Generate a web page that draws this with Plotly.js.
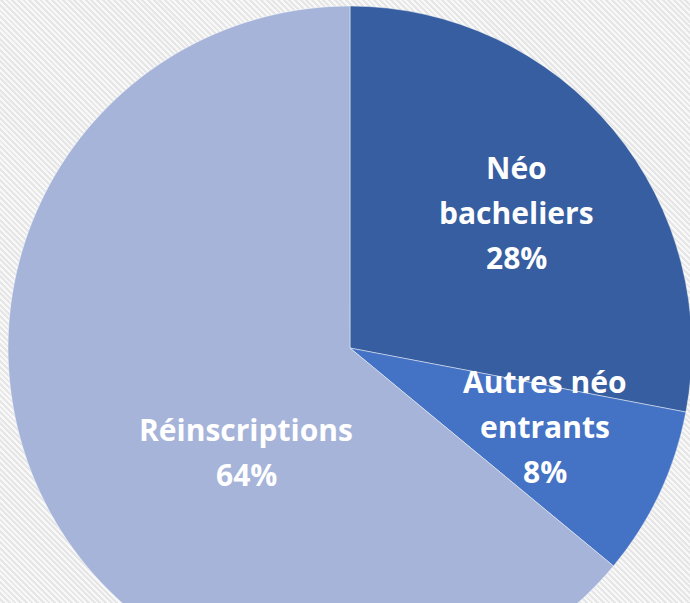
<!DOCTYPE html>
<html>
<head>
<meta charset="utf-8">
<script src="https://cdn.plot.ly/plotly-3.0.1.min.js"></script>
<style>
  html, body {
    margin: 0;
    padding: 0;
    width: 690px;
    height: 603px;
    overflow: hidden;
    background: repeating-linear-gradient(45deg, #f8f8f8 0px, #f8f8f8 2px, #e6e6e6 2px, #e6e6e6 4px);
  }
  #pieChart {
    position: absolute;
    left: 8px;
    top: 6px;
    width: 684px;
    height: 684px;
  }
</style>
</head>
<body>
<div id="pieChart"></div>
<script>
// chart values
var categories = ["Néo bacheliers", "Autres néo entrants", "Réinscriptions"];
var labelLines = [["Néo", "bacheliers"], ["Autres néo", "entrants"], ["Réinscriptions"]];
var values = [28, 8, 64];
var colors = ["#365ea0", "#4472c4", "#a6b4d9"];

// where each label block sits, in page pixels (center of block)
var labelPos = [[517, 212], [545, 426], [246, 452]];
var lineGap = 45;

function getPercentages(vals) {
  var sum = 0;
  for (var i = 0; i < vals.length; i++) {
    sum += vals[i];
  }
  var pct = [];
  for (var i = 0; i < vals.length; i++) {
    pct.push(Math.round(vals[i] / sum * 100) + "%");
  }
  return pct;
}

var box = {left: 8, top: 6, size: 684};
var percents = getPercentages(values);
var annotations = [];

for (var i = 0; i < categories.length; i++) {
  var lines = labelLines[i].concat([percents[i]]);
  var y0 = labelPos[i][1] - (lines.length - 1) * lineGap / 2;
  for (var j = 0; j < lines.length; j++) {
    var px = labelPos[i][0];
    var py = y0 + j * lineGap;
    annotations.push({
      text: "<b>" + lines[j] + "</b>",
      xref: "paper", yref: "paper",
      x: (px - box.left) / box.size,
      y: 1 - (py - box.top) / box.size,
      xanchor: "center", yanchor: "middle",
      showarrow: false,
      font: {family: "'Open Sans', sans-serif", size: 30, color: "#ffffff"}
    });
  }
}

var data = [{
  type: "pie",
  labels: categories,
  values: values,
  sort: false,
  direction: "clockwise",
  rotation: 0,
  textinfo: "none",
  hoverinfo: "label+percent",
  marker: {colors: colors, line: {color: "rgba(255,255,255,0.45)", width: 1}},
  showlegend: false
}];

var layout = {
  width: 684,
  height: 684,
  margin: {l: 0, r: 0, t: 0, b: 0},
  paper_bgcolor: "rgba(0,0,0,0)",
  plot_bgcolor: "rgba(0,0,0,0)",
  annotations: annotations
};

Plotly.newPlot("pieChart", data, layout, {displayModeBar: false, staticPlot: true});
</script>
</body>
</html>
